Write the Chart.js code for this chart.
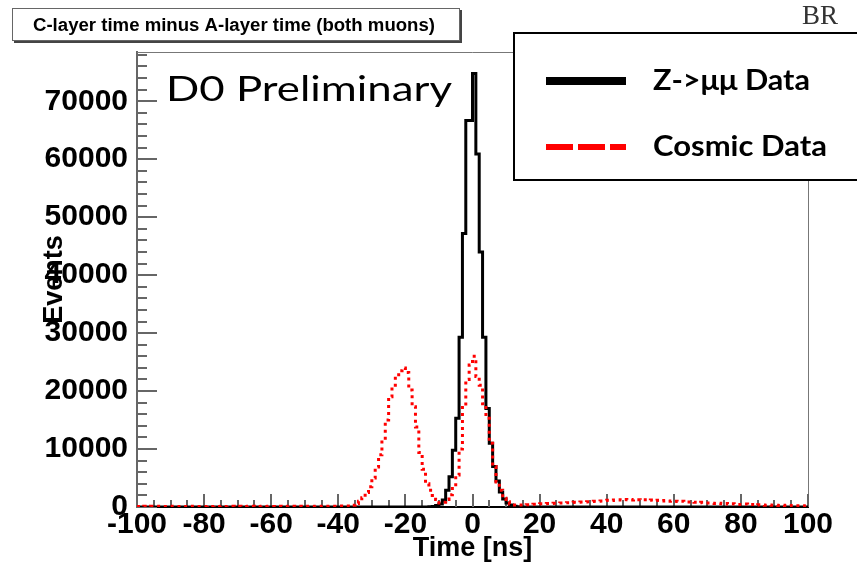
<!DOCTYPE html>
<html>
<head>
<meta charset="utf-8">
<title>C-layer time minus A-layer time</title>
<script src="https://cdn.jsdelivr.net/npm/chart.js@4.4.0/dist/chart.umd.min.js"></script>
<style>
  html, body { margin: 0; padding: 0; background: #ffffff; }
  #wrap { width: 857px; height: 563px; }
</style>
</head>
<body>
<div id="wrap"><canvas id="timeChart" width="857" height="563"></canvas></div>
<script>
// Histogram range: 1 ns bins from -100 to 100 ns
const histMin = -100;
const histMax = 100;
const binWidth = 1;

// Z->mumu data, events per bin (bins -100..-91, -90..-81, ... , 90..99)
const zmumuEvents = [
  0, 0, 0, 0, 0, 0, 0, 0, 0, 0,
  0, 0, 0, 0, 0, 0, 0, 0, 0, 0,
  0, 0, 0, 0, 0, 0, 0, 0, 0, 0,
  0, 0, 0, 0, 0, 0, 0, 0, 0, 0,
  0, 0, 0, 0, 0, 0, 0, 0, 0, 0,
  0, 0, 0, 0, 0, 0, 0, 0, 0, 0,
  0, 0, 0, 0, 0, 0, 0, 0, 0, 0,
  0, 0, 0, 0, 0, 0, 0, 0, 0, 0,
  0, 0, 0, 0, 0, 0, 0, 50, 100, 250,
  500, 1200, 2900, 5200, 9800, 15300, 29300, 47200, 66700, 66700,
  74800, 60900, 44000, 29300, 17000, 11000, 7000, 4500, 2600, 1400,
  700, 350, 150, 60, 0, 0, 0, 0, 0, 0,
  0, 0, 0, 0, 0, 0, 0, 0, 0, 0,
  0, 0, 0, 0, 0, 0, 0, 0, 0, 0,
  0, 0, 0, 0, 0, 0, 0, 0, 0, 0,
  0, 0, 0, 0, 0, 0, 0, 0, 0, 0,
  0, 0, 0, 0, 0, 0, 0, 0, 0, 0,
  0, 0, 0, 0, 0, 0, 0, 0, 0, 0,
  0, 0, 0, 0, 0, 0, 0, 0, 0, 0,
  0, 0, 0, 0, 0, 0, 0, 0, 0, 0
];

// Cosmic data, events per bin (same binning)
const cosmicEvents = [
  100, 80, 120, 90, 110, 100, 130, 90, 100, 120,
  110, 90, 100, 130, 100, 80, 110, 120, 90, 100,
  100, 120, 90, 110, 100, 130, 90, 100, 110, 90,
  120, 100, 90, 110, 130, 100, 90, 120, 100, 110,
  100, 90, 120, 110, 100, 130, 110, 90, 120, 100,
  110, 130, 100, 120, 110, 140, 120, 130, 150, 140,
  160, 150, 180, 150, 300, 600, 1000, 1600, 2500, 3500,
  5000, 6900, 9000, 11500, 15000, 19000, 21000, 22500, 23500, 24000,
  23200, 20200, 17300, 13800, 9400, 6500, 4000, 2900, 2000, 1300,
  700, 800, 1300, 2100, 3200, 5500, 10000, 17500, 22000, 24500,
  26000, 22500, 21000, 17800, 15300, 11000, 7000, 4300, 2900, 1500,
  900, 500, 350, 300, 330, 380, 400, 430, 460, 500,
  550, 580, 600, 620, 650, 680, 700, 720, 750, 780,
  800, 830, 850, 880, 920, 950, 980, 1000, 1050, 1100,
  1150, 1100, 1200, 1250, 1200, 1300, 1250, 1200, 1300, 1250,
  1200, 1250, 1150, 1200, 1100, 1150, 1050, 1100, 1000, 1050,
  1000, 950, 1000, 900, 850, 900, 800, 750, 800, 700,
  700, 650, 600, 650, 550, 600, 500, 550, 500, 450,
  450, 500, 400, 450, 350, 400, 350, 300, 350, 300,
  300, 250, 300, 250, 200, 250, 200, 200, 150, 200
];

// Axis tick labels
const xTickLabels = [-100, -80, -60, -40, -20, 0, 20, 40, 60, 80, 100];
const yTickLabels = [0, 10000, 20000, 30000, 40000, 50000, 60000, 70000];
const yMax = 78500;

// Legend / annotation texts
const seriesNames = ['Z->\u03bc\u03bc Data', 'Cosmic Data'];
const plotTitle = 'C-layer time minus A-layer time (both muons)';

// left edge of each bin
const binLow = [];
for (let e = histMin; e < histMax; e += binWidth) binLow.push(e);

function histPoints(values) {
  const pts = values.map((v, i) => ({ x: binLow[i], y: v }));
  pts.push({ x: histMax, y: values[values.length - 1] });
  return pts;
}

// draw text with a given font, stretched horizontally to the wanted width
function drawFitted(ctx, text, x, y, font, width, align) {
  ctx.save();
  ctx.font = font;
  const w = ctx.measureText(text).width;
  const sx = width / w;
  ctx.translate(align === 'center' ? x - width / 2 : x, y);
  ctx.scale(sx, 1);
  ctx.textAlign = 'left';
  ctx.fillText(text, 0, 0);
  ctx.restore();
}

const decorations = {
  id: 'decorations',
  beforeDatasetsDraw(chart) {
    const { ctx, chartArea: a, scales } = chart;
    const xs = scales.x, ys = scales.y;
    ctx.save();
    // frame (top and right)
    ctx.strokeStyle = '#777';
    ctx.lineWidth = 1;
    ctx.beginPath();
    ctx.moveTo(a.left, a.top + 0.5);
    ctx.lineTo(a.right + 0.5, a.top + 0.5);
    ctx.lineTo(a.right + 0.5, a.bottom);
    ctx.stroke();

    // inward tick marks
    ctx.strokeStyle = '#666';
    ctx.lineWidth = 2;
    ctx.beginPath();
    for (let v = 0; v <= yMax; v += 2000) {
      const py = Math.round(ys.getPixelForValue(v));
      const len = v % 10000 === 0 ? 20 : 10;
      ctx.moveTo(a.left, py);
      ctx.lineTo(a.left + len, py);
    }
    for (let v = histMin; v <= histMax; v += 5) {
      const px = Math.round(xs.getPixelForValue(v));
      const len = v % 20 === 0 ? 13 : 7;
      ctx.moveTo(px, a.bottom);
      ctx.lineTo(px, a.bottom - len);
    }
    ctx.stroke();
    ctx.restore();
  },
  afterDraw(chart) {
    const { ctx } = chart;
    ctx.save();

    // title pave with shadow
    ctx.fillStyle = '#444';
    ctx.fillRect(14, 10, 448, 33);
    ctx.fillStyle = '#fff';
    ctx.fillRect(12, 8, 448, 33);
    ctx.strokeStyle = '#666';
    ctx.lineWidth = 1;
    ctx.strokeRect(12.5, 8.5, 447, 32);
    ctx.fillStyle = '#000';
    ctx.textBaseline = 'alphabetic';
    drawFitted(ctx, plotTitle, 234, 31, 'bold 18px "Liberation Sans"', 402, 'center');

    // D0 Preliminary
    drawFitted(ctx, 'D0 Preliminary', 166, 101, '35px Lato', 286, 'left');

    // legend box
    ctx.fillStyle = '#fff';
    ctx.fillRect(514, 33, 400, 147);
    ctx.strokeStyle = '#000';
    ctx.lineWidth = 2;
    ctx.strokeRect(514, 33, 400, 147);

    ctx.lineCap = 'butt';
    ctx.strokeStyle = '#000';
    ctx.lineWidth = 8;
    ctx.beginPath();
    ctx.moveTo(546, 81);
    ctx.lineTo(626, 81);
    ctx.stroke();

    ctx.strokeStyle = '#ff0000';
    ctx.lineWidth = 6;
    ctx.setLineDash([27, 5]);
    ctx.beginPath();
    ctx.moveTo(546, 147);
    ctx.lineTo(626, 147);
    ctx.stroke();
    ctx.setLineDash([]);

    ctx.fillStyle = '#000';
    drawFitted(ctx, seriesNames[0], 653, 90, 'bold 28px Lato', 157, 'left');
    drawFitted(ctx, seriesNames[1], 653, 156, 'bold 28px Lato', 174, 'left');

    // corner text
    ctx.fillStyle = '#333';
    ctx.font = '27px "Liberation Serif"';
    ctx.fillText('BR', 802, 24);
    ctx.restore();
  }
};

const tickFont = { family: 'Liberation Sans', weight: 'bold', size: 30 };
const titleFont = { family: 'Liberation Sans', weight: 'bold', size: 27 };

new Chart(document.getElementById('timeChart'), {
  type: 'line',
  data: {
    datasets: [
      {
        label: seriesNames[0],
        data: histPoints(zmumuEvents),
        borderColor: '#000000',
        borderWidth: 3,
        stepped: 'before',
        pointRadius: 0,
        fill: false,
        order: 2
      },
      {
        label: seriesNames[1],
        data: histPoints(cosmicEvents),
        borderColor: '#ff0000',
        borderWidth: 3,
        borderDash: [3, 4],
        stepped: 'before',
        pointRadius: 0,
        fill: false,
        order: 1
      }
    ]
  },
  options: {
    responsive: false,
    animation: false,
    devicePixelRatio: 1,
    layout: { padding: { left: 0, top: 52, right: 49, bottom: 0 } },
    plugins: {
      legend: { display: false },
      tooltip: { enabled: false },
      title: { display: false }
    },
    scales: {
      x: {
        type: 'linear',
        min: histMin,
        max: histMax,
        grid: { display: false, drawTicks: false },
        border: { display: true, color: '#000', width: 2 },
        afterBuildTicks: (s) => { s.ticks = xTickLabels.map(v => ({ value: v })); },
        afterFit: (s) => { s.height = 56; s.paddingLeft = 0; s.paddingRight = 0; },
        ticks: { font: tickFont, color: '#000', padding: 0, maxRotation: 0, autoSkip: false,
                 callback: (v) => String(v) },
        title: { display: true, text: 'Time [ns]', font: titleFont, color: '#000', padding: { top: 0, bottom: -2 } }
      },
      y: {
        type: 'linear',
        min: 0,
        max: yMax,
        grid: { display: false, drawTicks: false },
        border: { display: true, color: '#666', width: 2 },
        afterBuildTicks: (s) => { s.ticks = yTickLabels.map(v => ({ value: v })); },
        afterFit: (s) => { s.width = 137; },
        ticks: { font: tickFont, color: '#000', padding: 9, callback: (v) => String(v) },
        title: { display: true, text: 'Events', font: titleFont, color: '#000', padding: { top: 38, bottom: 0 } }
      }
    }
  },
  plugins: [decorations]
});
</script>
</body>
</html>
